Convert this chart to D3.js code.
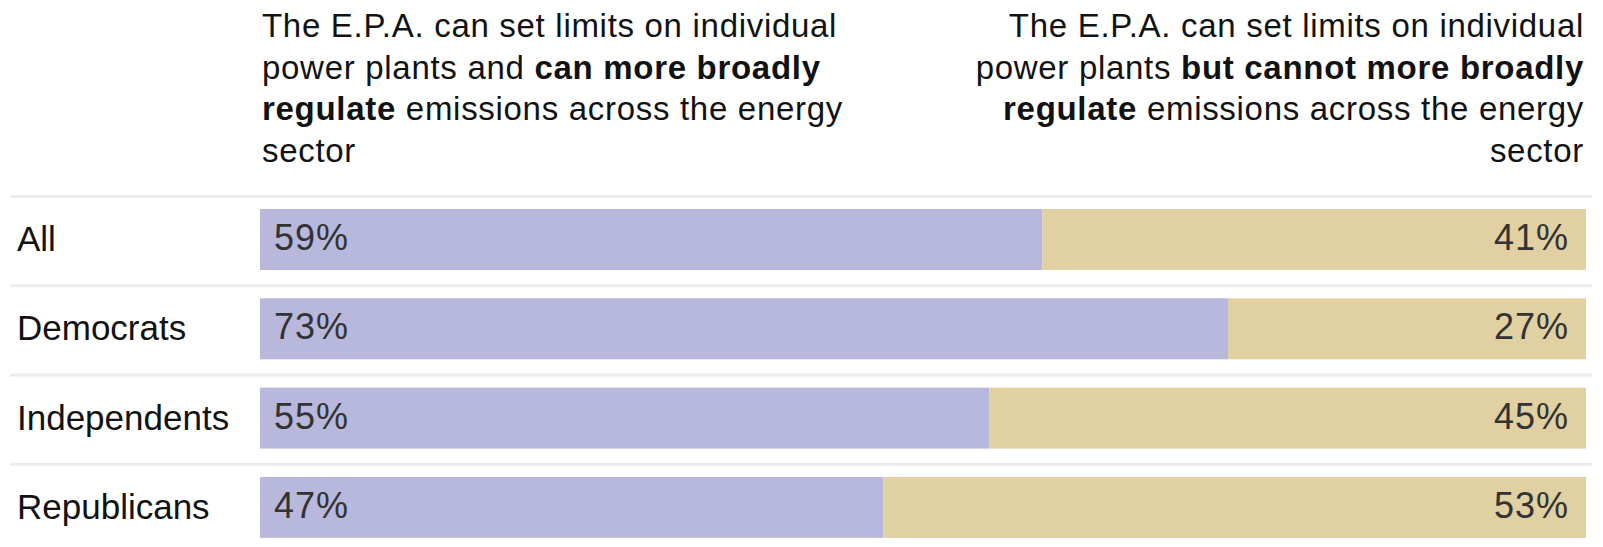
<!DOCTYPE html>
<html>
<head>
<meta charset="utf-8">
<script src="https://cdn.jsdelivr.net/npm/d3@7"></script>
<style>
  body { margin: 0; background: #fff; }
  svg text { font-family: "Liberation Sans", Arial, sans-serif; }
</style>
</head>
<body>
<svg id="chart" width="1603" height="547"></svg>
<script>
'use strict'
// survey groups and shares (percent)
const groups = ["All", "Democrats", "Independents", "Republicans"];
const canRegulate = [59, 73, 55, 47];
const cannotRegulate = [41, 27, 45, 53];

// header lines, each as [text, bold] pieces
const leftHeader = [
    [["The E.P.A. can set limits on individual", false]],
    [["power plants and ", false], ["can more broadly", true]],
    [["regulate", true], [" emissions across the energy", false]],
    [["sector", false]]
];
const rightHeader = [
    [["The E.P.A. can set limits on individual", false]],
    [["power plants ", false], ["but cannot more broadly", true]],
    [["regulate", true], [" emissions across the energy", false]],
    [["sector", false]]
];

const colorCan = "#b8b8dc";
const colorCannot = "#e0d0a2";

let svg = d3.select("#chart");

let x = d3.scaleLinear().domain([0, 100]).range([260, 1586]);
let y = d3.scaleBand().domain(groups).range([195, 195 + 4 * 89.3]).paddingInner(0);

// header text blocks
function drawHeader(lines, xPos, anchor) {
    let g = svg.append("g");
    lines.forEach((pieces, i) => {
        let t = g.append("text")
            .attr("x", xPos)
            .attr("y", 37 + i * 41.5)
            .attr("text-anchor", anchor)
            .attr("font-size", 33)
            .attr("letter-spacing", 0.7)
            .attr("fill", "#121212");
        pieces.forEach(p => {
            t.append("tspan")
                .attr("font-weight", p[1] ? "bold" : "normal")
                .text(p[0]);
        });
    });
}
drawHeader(leftHeader, 262, "start");
drawHeader(rightHeader, 1584, "end");

let rows = svg.selectAll(".row")
    .data(groups)
    .enter().append("g")
    .attr("class", "row")
    .attr("transform", d => `translate(0,${y(d)})`);

// light separator on top of each row
rows.append("rect")
    .attr("x", 10)
    .attr("y", 0)
    .attr("width", 1582)
    .attr("height", 3)
    .attr("fill", "#ececec");

rows.append("rect")
    .attr("x", x(0))
    .attr("y", 14)
    .attr("width", (d, i) => x(canRegulate[i]) - x(0))
    .attr("height", 61)
    .attr("fill", colorCan);

rows.append("rect")
    .attr("x", (d, i) => x(canRegulate[i]))
    .attr("y", 14)
    .attr("width", (d, i) => x(100) - x(canRegulate[i]))
    .attr("height", 61)
    .attr("fill", colorCannot);

rows.append("text")
    .attr("x", 17)
    .attr("y", 56)
    .attr("font-size", 35)
    .attr("fill", "#121212")
    .text(d => d);

rows.append("text")
    .attr("x", x(0) + 14)
    .attr("y", 55)
    .attr("font-size", 36)
    .attr("letter-spacing", 1)
    .attr("fill", "#333")
    .text((d, i) => canRegulate[i] + "%");

rows.append("text")
    .attr("x", x(100) - 17)
    .attr("y", 55)
    .attr("font-size", 36)
    .attr("letter-spacing", 1)
    .attr("text-anchor", "end")
    .attr("fill", "#333")
    .text((d, i) => cannotRegulate[i] + "%");
</script>
</body>
</html>
